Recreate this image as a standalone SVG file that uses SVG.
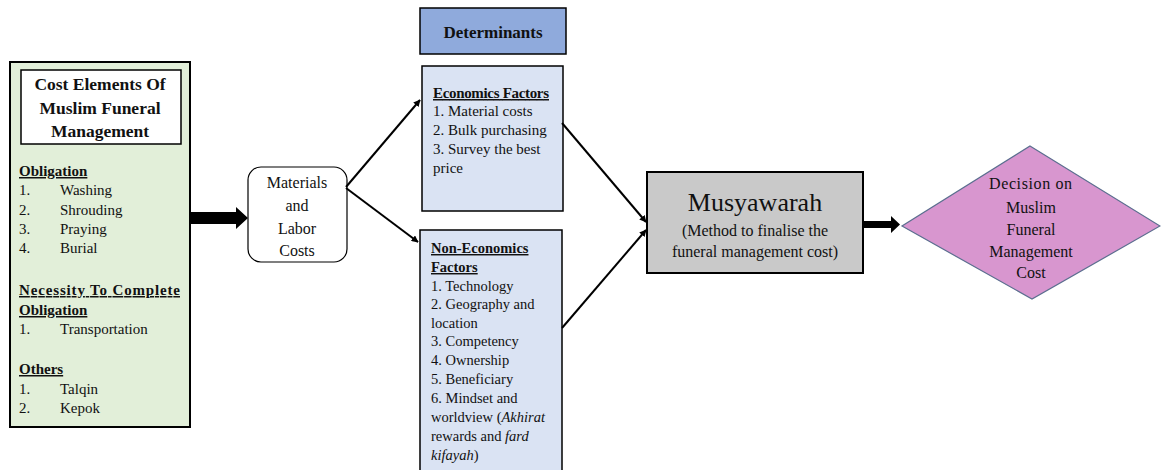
<svg xmlns="http://www.w3.org/2000/svg" width="1161" height="470" viewBox="0 0 1161 470">
<defs>
<marker id="ah" viewBox="0 0 10 10" refX="9" refY="5" markerWidth="7" markerHeight="7" markerUnits="userSpaceOnUse" orient="auto"><path d="M0,0 L10,5 L0,10 z" fill="#000"/></marker>
<style>
text{font-family:"Liberation Serif","Times New Roman",serif;fill:#111;}
.t{font-size:15px;}
.e{font-size:15px;}
.n{font-size:14.5px;}
.c{font-size:16px;}
.b{font-weight:bold;}
.u{text-decoration:underline;}
.m{text-anchor:middle;}
.thin{stroke:#000;stroke-width:2;fill:none;}
</style>
</defs>
<rect width="1161" height="470" fill="#fff"/>

<g id="cost-elements">
<rect x="10" y="62" width="180" height="365" fill="#E2EFD9" stroke="#000" stroke-width="2"/>
<rect x="21" y="70" width="160" height="74" fill="#fff" stroke="#000" stroke-width="1.5"/>
<text class="b m" x="100" y="90" font-size="17.5">Cost Elements Of</text>
<text class="b m" x="100" y="114" font-size="17.5">Muslim Funeral</text>
<text class="b m" x="100" y="137" font-size="17.5">Management</text>
<text class="t b u" x="19" y="176">Obligation</text>
<text class="t" x="19" y="195">1.</text><text class="t" x="60" y="195">Washing</text>
<text class="t" x="19" y="215">2.</text><text class="t" x="60" y="215">Shrouding</text>
<text class="t" x="19" y="234">3.</text><text class="t" x="60" y="234">Praying</text>
<text class="t" x="19" y="253">4.</text><text class="t" x="60" y="253">Burial</text>
<text class="t b u" x="19" y="295" textLength="161" lengthAdjust="spacing">Necessity To Complete</text>
<text class="t b u" x="19" y="315">Obligation</text>
<text class="t" x="19" y="334">1.</text><text class="t" x="60" y="334">Transportation</text>
<text class="t b u" x="19" y="374">Others</text>
<text class="t" x="19" y="394">1.</text><text class="t" x="60" y="394">Talqin</text>
<text class="t" x="19" y="413">2.</text><text class="t" x="60" y="413">Kepok</text>
</g>

<g id="materials-labor">
<rect x="248" y="167" width="99" height="95" rx="13" fill="#fff" stroke="#000" stroke-width="1.2"/>
<text class="c m" x="297" y="188">Materials</text>
<text class="c m" x="297" y="211">and</text>
<text class="c m" x="297" y="234">Labor</text>
<text class="c m" x="297" y="256">Costs</text>
</g>

<g id="determinants">
<rect x="420" y="8" width="146" height="46" fill="#8FAADC" stroke="#000" stroke-width="1.5"/>
<text class="b m" x="493" y="38" font-size="17">Determinants</text>
</g>

<g id="economics">
<rect x="422" y="66" width="141" height="145" fill="#DAE3F3" stroke="#000" stroke-width="1.5"/>
<text class="e b u" x="433" y="98" textLength="116" lengthAdjust="spacing">Economics Factors</text>
<text class="e" x="433" y="116">1. Material costs</text>
<text class="e" x="433" y="135">2. Bulk purchasing</text>
<text class="e" x="433" y="154">3. Survey the best</text>
<text class="e" x="433" y="173">price</text>
</g>

<g id="non-economics">
<rect x="420" y="230" width="142" height="245" fill="#DAE3F3" stroke="#000" stroke-width="1.5"/>
<text class="n b u" x="431" y="253">Non-Economics</text>
<text class="n b u" x="431" y="272">Factors</text>
<text class="n" x="431" y="291">1. Technology</text>
<text class="n" x="431" y="309">2. Geography and</text>
<text class="n" x="431" y="328">location</text>
<text class="n" x="431" y="346">3. Competency</text>
<text class="n" x="431" y="365">4. Ownership</text>
<text class="n" x="431" y="384">5. Beneficiary</text>
<text class="n" x="431" y="403">6. Mindset and</text>
<text class="n" x="431" y="422">worldview (<tspan font-style="italic">Akhirat</tspan></text>
<text class="n" x="431" y="441">rewards and <tspan font-style="italic">fard</tspan></text>
<text class="n" x="431" y="460"><tspan font-style="italic">kifayah</tspan>)</text>
</g>

<g id="musyawarah">
<rect x="647" y="172" width="216" height="101" fill="#C9C9C9" stroke="#000" stroke-width="2"/>
<text class="m" x="755" y="211" font-size="26">Musyawarah</text>
<text class="c m" x="755" y="236">(Method to finalise the</text>
<text class="c m" x="755" y="257">funeral management cost)</text>
</g>

<g id="decision">
<polygon points="1030,146 1160,226 1032,299 902,226" fill="#D896CF" stroke="#5B6E8F" stroke-width="1.2"/>
<text class="c" x="989" y="189" textLength="83" lengthAdjust="spacing">Decision on</text>
<text class="c m" x="1031" y="213">Muslim</text>
<text class="c m" x="1031" y="235">Funeral</text>
<text class="c m" x="1031" y="257">Management</text>
<text class="c m" x="1031" y="278">Cost</text>
</g>

<g id="connectors">
<polygon points="190,212 236,212 236,207 248,218 236,229 236,224 190,224" fill="#000"/>
<line class="thin" x1="346" y1="187" x2="420" y2="100" marker-end="url(#ah)"/>
<line class="thin" x1="346" y1="188" x2="418" y2="242" marker-end="url(#ah)"/>
<line class="thin" x1="562" y1="123" x2="646" y2="222" marker-end="url(#ah)"/>
<line class="thin" x1="562" y1="328" x2="646" y2="230" marker-end="url(#ah)"/>
<polygon points="863,221 891,221 891,216 900,224.5 891,233 891,228 863,228" fill="#000"/>
</g>
</svg>
